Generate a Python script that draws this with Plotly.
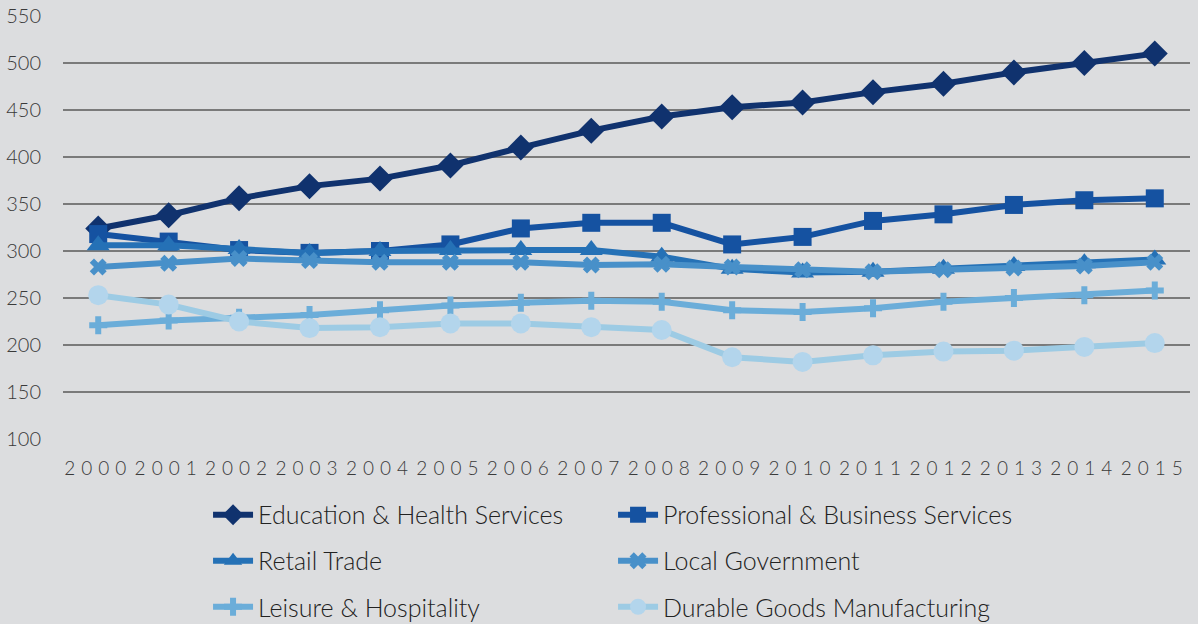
import plotly.graph_objects as go

# Years on the x axis
years = list(range(2000, 2016))

# Employment by sector (thousands)
education_health = [324, 338, 356, 369, 377, 391, 410, 428, 443, 453, 458, 469, 478, 490, 500, 510]
professional_business = [318, 310, 301, 298, 300, 307, 324, 330, 330, 307, 315, 332, 339, 349, 354, 356]
retail_trade = [306, 306, 302, 298, 300, 301, 301, 301, 294, 281, 277, 278, 281, 284, 287, 291]
local_government = [283, 287, 292, 290, 288, 288, 288, 285, 286, 283, 280, 278, 280, 282, 284, 288]
leisure_hospitality = [221, 226, 229, 232, 237, 242, 245, 247, 246, 237, 235, 239, 246, 250, 253, 258]
durable_goods = [253, 243, 225, 218, 219, 223, 223, 219, 216, 187, 182, 189, 193, 194, 198, 202]

series_names = [
    "Education & Health Services",
    "Professional & Business Services",
    "Retail Trade",
    "Local Government",
    "Leisure & Hospitality",
    "Durable Goods Manufacturing",
]

bg = "#dcdddf"
font_family = "Lato, 'Open Sans', sans-serif"

fig = go.Figure()

# name, values, line colour, marker symbol, marker colour, marker size, legend
styles = [
    (series_names[0], education_health, "#10326e", "diamond", "#10326e", 20, "legend"),
    (series_names[1], professional_business, "#1552a1", "square", "#1552a1", 18, "legend"),
    (series_names[2], retail_trade, "#2571b6", "triangle-up", "#2571b6", 20, "legend2"),
    (series_names[3], local_government, "#4890c9", "x", "#4890c9", 15, "legend2"),
    (series_names[4], leisure_hospitality, "#6badd9", "cross", "#6badd9", 15, "legend3"),
    (series_names[5], durable_goods, "#9dcbe4", "circle", "#b3d5ec", 20, "legend3"),
]

for name, vals, lcol, sym, mcol, msize, leg in styles:
    fig.add_trace(go.Scatter(
        x=years,
        y=vals,
        name=name,
        mode="lines+markers",
        line=dict(color=lcol, width=6),
        marker=dict(symbol=sym, size=msize, color=mcol, line=dict(width=0)),
        legend=leg,
    ))

# legends placed in container coords so they don't push the margins
legend_common = dict(
    orientation="h",
    xanchor="left",
    yanchor="middle",
    yref="container",
    x=0.1287,
    entrywidth=350,
    bgcolor="rgba(0,0,0,0)",
    font=dict(family=font_family, size=25, color="#222222", weight=300),
    itemwidth=40,
)

# letter-spaced year labels, as in the original
year_labels = ['<span style="letter-spacing:6px">%d</span>' % y for y in years]

fig.update_layout(
    width=1198,
    height=624,
    paper_bgcolor=bg,
    plot_bgcolor=bg,
    margin=dict(l=63, r=8, t=16, b=185),
    font=dict(family=font_family, color="#3a3a3a"),
    legend=dict(legend_common, y=0.1747),
    legend2=dict(legend_common, y=0.101),
    legend3=dict(legend_common, y=0.0272),
    xaxis=dict(
        range=[1999.5, 2015.5],
        tickmode="array",
        tickvals=years,
        ticktext=year_labels,
        showgrid=False,
        zeroline=False,
        showline=False,
        ticks="outside",
        ticklen=12,
        tickcolor=bg,
        automargin=False,
        tickfont=dict(family=font_family, size=19, color="#3a3a3a", weight=300),
    ),
    yaxis=dict(
        range=[100, 550],
        dtick=50,
        showgrid=True,
        gridcolor="#7a7a7a",
        gridwidth=1.5,
        zeroline=False,
        showline=False,
        ticks="outside",
        ticklen=17,
        tickcolor=bg,
        automargin=False,
        tickfont=dict(family=font_family, size=20, color="#3a3a3a", weight=300),
    ),
)

# drop the page's default body margin so the figure sits at the window corner
fig.write_html(
    "out.html",
    config={"displayModeBar": False},
    post_script="document.body.style.margin='0px';document.body.style.background='%s';" % bg,
)
